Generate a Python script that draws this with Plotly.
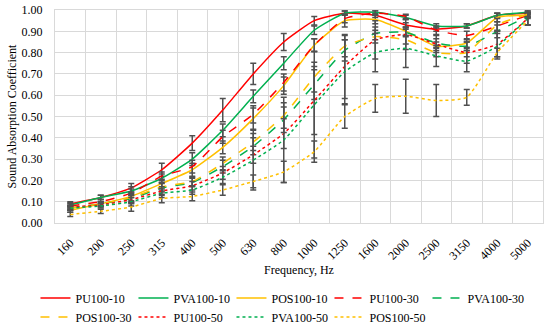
import plotly.graph_objects as go

freqs = ["160", "200", "250", "315", "400", "500", "630", "800", "1000",
         "1250", "1600", "2000", "2500", "3150", "4000", "5000"]

pu100_10 = [0.09, 0.12, 0.165, 0.25, 0.375, 0.53, 0.70, 0.85, 0.95, 0.985, 0.975, 0.93, 0.91, 0.925, 0.975, 0.985]
pva100_10 = [0.085, 0.12, 0.15, 0.21, 0.30, 0.435, 0.595, 0.75, 0.905, 0.985, 0.99, 0.965, 0.925, 0.925, 0.975, 0.99]
pos100_10 = [0.06, 0.09, 0.125, 0.185, 0.25, 0.355, 0.49, 0.645, 0.835, 0.95, 0.955, 0.90, 0.83, 0.845, 0.965, 0.975]
pu100_30 = [0.08, 0.10, 0.14, 0.22, 0.265, 0.405, 0.51, 0.66, 0.835, 0.96, 0.985, 0.97, 0.905, 0.88, 0.925, 0.975]
pva100_30 = [0.07, 0.09, 0.115, 0.165, 0.19, 0.265, 0.36, 0.485, 0.65, 0.81, 0.89, 0.895, 0.845, 0.83, 0.90, 0.97]
pos100_30 = [0.07, 0.09, 0.12, 0.17, 0.195, 0.28, 0.38, 0.505, 0.685, 0.83, 0.875, 0.86, 0.80, 0.80, 0.93, 0.98]
pu100_50 = [0.075, 0.085, 0.11, 0.15, 0.175, 0.235, 0.32, 0.42, 0.575, 0.735, 0.86, 0.885, 0.84, 0.80, 0.84, 0.96]
pva100_50 = [0.07, 0.08, 0.10, 0.14, 0.155, 0.215, 0.295, 0.39, 0.555, 0.71, 0.80, 0.82, 0.785, 0.76, 0.83, 0.96]
pos100_50 = [0.04, 0.055, 0.075, 0.115, 0.125, 0.155, 0.195, 0.24, 0.335, 0.50, 0.585, 0.595, 0.575, 0.59, 0.80, 0.95]

err_pu100_10 = [0.01, 0.01, 0.02, 0.03, 0.035, 0.055, 0.05, 0.04, 0.02, 0.01, 0.01, 0.01, 0.01, 0.01, 0.01, 0.01]
err_pva100_10 = [0.01, 0.01, 0.02, 0.02, 0.03, 0.03, 0.03, 0.03, 0.02, 0.01, 0.01, 0.01, 0.01, 0.01, 0.01, 0.01]
err_pos100_10 = [0.01, 0.01, 0.02, 0.02, 0.03, 0.03, 0.05, 0.04, 0.03, 0.03, 0.02, 0.02, 0.02, 0.02, 0.02, 0.01]
err_pu100_30 = [0.01, 0.01, 0.02, 0.02, 0.03, 0.03, 0.04, 0.04, 0.03, 0.02, 0.01, 0.01, 0.02, 0.02, 0.02, 0.01]
err_pva100_30 = [0.01, 0.01, 0.02, 0.02, 0.02, 0.03, 0.04, 0.06, 0.07, 0.05, 0.03, 0.02, 0.02, 0.02, 0.03, 0.01]
err_pos100_30 = [0.01, 0.01, 0.02, 0.02, 0.02, 0.03, 0.04, 0.06, 0.07, 0.05, 0.03, 0.02, 0.02, 0.02, 0.03, 0.01]
err_pu100_50 = [0.01, 0.01, 0.02, 0.02, 0.02, 0.03, 0.04, 0.07, 0.16, 0.15, 0.09, 0.07, 0.04, 0.05, 0.06, 0.03]
err_pva100_50 = [0.01, 0.01, 0.02, 0.02, 0.02, 0.03, 0.14, 0.20, 0.25, 0.15, 0.09, 0.09, 0.05, 0.05, 0.06, 0.03]
err_pos100_50 = [0.01, 0.01, 0.02, 0.02, 0.02, 0.025, 0.03, 0.05, 0.05, 0.055, 0.065, 0.08, 0.075, 0.037, 0.02, 0.02]

RED, GREEN, YELLOW = "#FF0000", "#00B050", "#FFC000"

series = [
    ("PU100-10", pu100_10, err_pu100_10, RED, "solid"),
    ("PVA100-10", pva100_10, err_pva100_10, GREEN, "solid"),
    ("POS100-10", pos100_10, err_pos100_10, YELLOW, "solid"),
    ("PU100-30", pu100_30, err_pu100_30, RED, "dash"),
    ("PVA100-30", pva100_30, err_pva100_30, GREEN, "dash"),
    ("POS100-30", pos100_30, err_pos100_30, YELLOW, "dash"),
    ("PU100-50", pu100_50, err_pu100_50, RED, "dot"),
    ("PVA100-50", pva100_50, err_pva100_50, GREEN, "dot"),
    ("POS100-50", pos100_50, err_pos100_50, YELLOW, "dot"),
]

fig = go.Figure()
for name, y, e, color, dash in series:
    fig.add_trace(go.Scatter(
        x=freqs, y=y, name=name, mode="lines",
        line=dict(color=color, width=1.5, dash=dash, shape="spline", smoothing=0.5),
        error_y=dict(type="data", array=e, visible=True, color="#505050",
                     thickness=1.5, width=3),
    ))

FONT = "Times New Roman, Liberation Serif, DejaVu Serif, serif"
fig.update_layout(
    width=550, height=328,
    margin=dict(l=55, r=7, t=10, b=105),
    paper_bgcolor="white", plot_bgcolor="white",
    font=dict(family=FONT, size=12, color="#000000"),
    showlegend=True,
    legend=dict(orientation="h", xref="container", yref="container",
                x=0.0645, xanchor="left", y=0.1357, yanchor="top",
                entrywidth=53, entrywidthmode="pixels",
                font=dict(family=FONT, size=12), tracegroupgap=0,
                itemwidth=30, bgcolor="rgba(0,0,0,0)"),
    xaxis=dict(type="category", tickangle=-45, tickson="boundaries",
               showgrid=True, gridcolor="#D9D9D9", gridwidth=1,
               showline=True, linecolor="#D9D9D9", mirror=True, automargin=False,
               ticks="", range=[-0.5, 15.5], ticklabelstandoff=7,
               title=dict(text="Frequency, Hz", standoff=0, font=dict(family=FONT, size=12)),
               tickfont=dict(family=FONT, size=12)),
    yaxis=dict(range=[0, 1], dtick=0.1, tickformat=".2f",
               showgrid=True, gridcolor="#D9D9D9", gridwidth=1,
               showline=True, linecolor="#D9D9D9", mirror=True, automargin=False,
               ticks="", zeroline=False, ticklabelstandoff=9,
               title=dict(text="Sound Absorption Coefficient", standoff=2, font=dict(family=FONT, size=12)),
               tickfont=dict(family=FONT, size=12)),
)

fig.write_html("out.html", config={"displayModeBar": False},
               post_script="document.body.style.margin='0';")
